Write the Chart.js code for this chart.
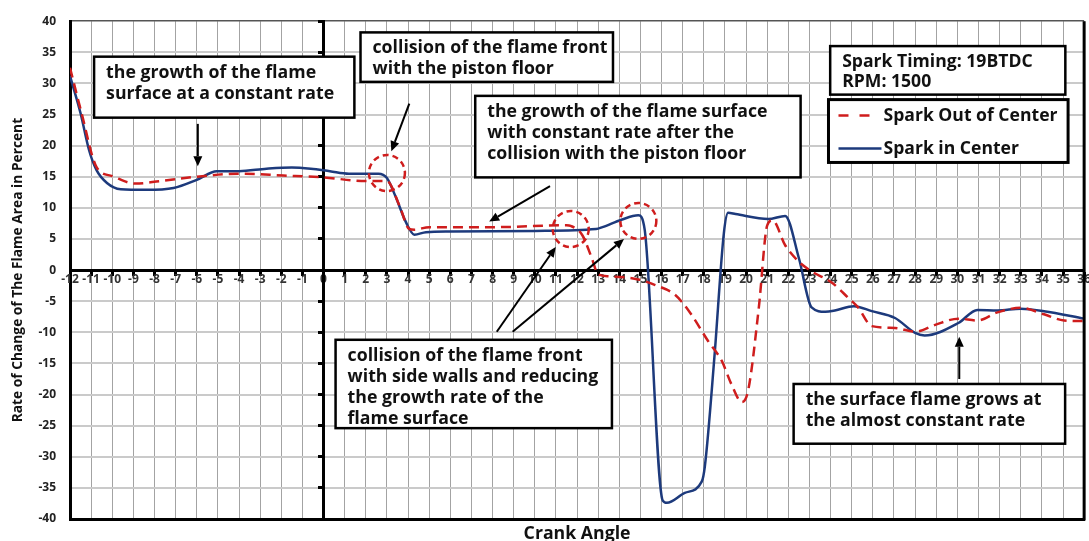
<!DOCTYPE html>
<html>
<head>
<meta charset="utf-8">
<script src="https://cdn.jsdelivr.net/npm/chart.js@4.4.1/dist/chart.umd.min.js"></script>
<style>
  html, body { margin: 0; padding: 0; background: #fff; }
</style>
</head>
<body>
<canvas id="flameChart" width="1089" height="541"></canvas>
<script>
// crank angle range and value range of the plot
const angleMin = -12, angleMax = 36;
const rateMin = -40, rateMax = 40, rateStep = 5;

// Spark Out of Center (red dashed)
const angleOut = [-12, -11.45, -10.75, -10, -8.9, -7.75, -6, -4, -1.9, 0, 2, 3, 3.6, 4.06, 4.3, 5,
  8, 11.5, 11.7, 12.25, 12.7, 13, 13.5, 14.9, 15.7, 16.65, 17.4, 18.2, 18.85, 19.3, 19.8, 20.1,
  20.6, 21, 21.25, 21.85, 22.5, 23.1, 24.05, 24.85, 25.3, 25.95, 27.05, 28, 28.95, 30.05, 30.95,
  31.9, 33, 34.1, 35.05, 36];
const rateOut = [32.5, 25.2, 16.6, 15.1, 13.9, 14.3, 15.0, 15.5, 15.2, 14.9, 14.3, 14.3, 10.3, 6.6, 6.5, 6.9,
  6.9, 7.2, 7.1, 5.6, 1.9, -0.7, -1.0, -1.5, -2.4, -4.0, -7.1, -11.4, -14.6, -18.3, -21.2, -19.3,
  -6.1, 7.2, 8.0, 4.0, 1.35, -0.2, -2.0, -4.5, -6.0, -9.0, -9.3, -9.9, -8.8, -7.8, -8.1,
  -6.8, -6.05, -7.1, -8.1, -8.2];

// Spark in Center (blue solid)
const angleIn = [-12, -11.5, -11.1, -10.75, -10.25, -9.6, -8.4, -7.1, -6, -5.05, -4, -2.7, -1.5, -0.6,
  0.3, 1.2, 2.6, 3.0, 3.4, 3.9, 4.3, 4.85, 6, 10, 12.9, 13.2, 14.1, 14.9, 15.2, 16.05, 16.25, 17.1,
  17.9, 18.05, 18.5, 18.95, 19.15, 19.5, 21.05, 21.85, 22.5, 23.1, 23.75, 24.2, 25.1, 25.95, 27.05,
  28, 28.45, 30.05, 30.95, 31.9, 33, 34.1, 36];
const rateIn = [31.2, 25.2, 19.3, 16.1, 14.0, 13.0, 12.9, 13.2, 14.5, 15.9, 15.9, 16.3, 16.5, 16.3,
  15.9, 15.5, 15.5, 14.8, 11.9, 7.7, 5.7, 6.1, 6.2, 6.3, 6.6, 6.9, 8.1, 8.8, 6.5, -37.0, -37.4, -35.8,
  -34.0, -31.5, -14, 6, 9.2, 9.0, 8.2, 8.7, 1.9, -6.0, -6.7, -6.5, -5.8, -6.6, -7.7,
  -10.1, -10.5, -8.5, -6.4, -6.5, -6.2, -6.6, -7.8];

// annotation boxes: text lines and box corners in data units [left, top, right, bottom]
const notes = [
  { lines: ['the growth of the flame', 'surface at a constant rate'], box: [-10.86, 34.3, 1.46, 24.5] },
  { lines: ['collision of the flame front', 'with the piston floor'], box: [1.75, 38.2, 13.7, 30.25] },
  { lines: ['the growth of the flame surface', 'with constant rate after the', 'collision with the piston floor'], box: [7.18, 28.0, 22.58, 14.9] },
  { lines: ['collision of the flame front', 'with side walls and reducing', 'the growth rate of the', 'flame surface'], box: [0.57, -11.2, 13.65, -25.4] },
  { lines: ['the surface flame grows at', 'the almost constant rate'], box: [22.25, -18.3, 35.1, -27.9] },
  { lines: ['Spark Timing: 19BTDC', 'RPM: 1500'], box: [23.98, 36.0, 35.11, 28.2] }
];
const legendBox = [23.9, 27.4, 35.24, 17.3];

// arrows [fromX, fromY, toX, toY] in data units
const arrows = [
  [-5.95, 23.5, -5.95, 16.7],
  [4.06, 26.75, 3.21, 19.1],
  [10.72, 13.5, 7.84, 7.8],
  [8.2, -9.9, 10.99, 3.7],
  [8.95, -9.9, 14.22, 5.0],
  [30.09, -17.5, 30.09, -10.7]
];

// dashed circles [x, y] in data units
const circles = [[3.0, 15.6], [11.7, 6.6], [14.9, 7.9]];

const seriesNames = ['Spark Out of Center', 'Spark in Center'];
const redColor = '#cf1d1d';
const blueColor = '#1d3a7c';
const family = '"Open Sans", "DejaVu Sans", sans-serif';

function fitSize(text, target) {
  const c = document.createElement('canvas').getContext('2d');
  c.font = 'bold 20px ' + family;
  return 20 * target / c.measureText(text).width;
}
const noteSize = fitSize('collision of the flame front', 235);
const legendSize = fitSize('Spark Out of Center', 174);
const yTitleSize = fitSize('Rate of Change of The Flame Area in Percent', 305);
const xTitleSize = fitSize('Crank Angle', 107);

const toPoints = (xs, ys) => xs.map((x, i) => ({ x: x, y: ys[i] }));

const notesPlugin = {
  id: 'notes',
  afterDatasetsDraw(chart) {
    const ctx = chart.ctx;
    const sx = chart.scales.x, sy = chart.scales.y;
    const X = v => sx.getPixelForValue(v);
    const Y = v => sy.getPixelForValue(v);
    const area = chart.chartArea;

    ctx.save();
    // right frame line
    ctx.strokeStyle = '#000';
    ctx.lineWidth = 3;
    ctx.beginPath();
    ctx.moveTo(area.right, area.top);
    ctx.lineTo(area.right, area.bottom + 1.5);
    ctx.stroke();

    // red dashed circles
    ctx.strokeStyle = redColor;
    ctx.lineWidth = 2.5;
    ctx.setLineDash([6, 4]);
    circles.forEach(c => {
      ctx.beginPath();
      ctx.arc(X(c[0]), Y(c[1]), 18, 0, Math.PI * 2);
      ctx.stroke();
    });
    ctx.setLineDash([]);

    // arrows
    ctx.strokeStyle = '#000';
    ctx.fillStyle = '#000';
    ctx.lineWidth = 2;
    arrows.forEach(a => {
      const x1 = X(a[0]), y1 = Y(a[1]), x2 = X(a[2]), y2 = Y(a[3]);
      const ang = Math.atan2(y2 - y1, x2 - x1);
      const hl = 10, hw = 4.5;
      const bx = x2 - hl * Math.cos(ang), by = y2 - hl * Math.sin(ang);
      ctx.beginPath();
      ctx.moveTo(x1, y1);
      ctx.lineTo(bx, by);
      ctx.stroke();
      ctx.beginPath();
      ctx.moveTo(x2, y2);
      ctx.lineTo(bx + hw * Math.sin(ang), by - hw * Math.cos(ang));
      ctx.lineTo(bx - hw * Math.sin(ang), by + hw * Math.cos(ang));
      ctx.closePath();
      ctx.fill();
    });

    // text boxes
    notes.forEach((n, idx) => {
      const l = X(n.box[0]), t = Y(n.box[1]), r = X(n.box[2]), b = Y(n.box[3]);
      ctx.fillStyle = '#fff';
      ctx.fillRect(l, t, r - l, b - t);
      ctx.strokeStyle = '#000';
      ctx.lineWidth = 2.5;
      ctx.strokeRect(l, t, r - l, b - t);
      const size = idx === 5 ? legendSize : noteSize;
      ctx.font = 'bold ' + size.toFixed(2) + 'px ' + family;
      ctx.fillStyle = '#111';
      ctx.textAlign = 'left';
      ctx.textBaseline = 'middle';
      const gap = idx === 5 ? 19.5 : 21;
      n.lines.forEach((line, i) => {
        ctx.fillText(line, l + 12, t + 16 + i * gap);
      });
    });

    // legend box
    const ll = X(legendBox[0]), lt = Y(legendBox[1]), lr = X(legendBox[2]), lb = Y(legendBox[3]);
    ctx.fillStyle = '#fff';
    ctx.fillRect(ll, lt, lr - ll, lb - lt);
    ctx.strokeStyle = '#000';
    ctx.lineWidth = 3;
    ctx.strokeRect(ll, lt, lr - ll, lb - lt);
    ctx.font = 'bold ' + legendSize.toFixed(2) + 'px ' + family;
    ctx.fillStyle = '#111';
    ctx.textBaseline = 'middle';
    const row1 = lt + 16, row2 = lt + 49;
    ctx.lineWidth = 2.5;
    ctx.strokeStyle = redColor;
    ctx.setLineDash([10, 11]);
    ctx.beginPath();
    ctx.moveTo(ll + 10, row1);
    ctx.lineTo(ll + 43, row1);
    ctx.stroke();
    ctx.setLineDash([]);
    ctx.strokeStyle = blueColor;
    ctx.beginPath();
    ctx.moveTo(ll + 10, row2);
    ctx.lineTo(ll + 53, row2);
    ctx.stroke();
    ctx.fillText(chart.data.datasets[0].label, ll + 55, row1);
    ctx.fillText(chart.data.datasets[1].label, ll + 55, row2);
    ctx.restore();
  }
};

new Chart(document.getElementById('flameChart'), {
  type: 'line',
  data: {
    datasets: [
      {
        label: seriesNames[0],
        data: toPoints(angleOut, rateOut),
        borderColor: redColor,
        borderWidth: 2.5,
        borderDash: [10, 6],
        pointRadius: 0,
        cubicInterpolationMode: 'monotone',
        fill: false
      },
      {
        label: seriesNames[1],
        data: toPoints(angleIn, rateIn),
        borderColor: blueColor,
        borderWidth: 2.5,
        pointRadius: 0,
        cubicInterpolationMode: 'monotone',
        fill: false
      }
    ]
  },
  options: {
    responsive: false,
    animation: false,
    devicePixelRatio: 1,
    layout: { padding: { top: 16, right: 4, left: 0, bottom: 0 } },
    plugins: { legend: { display: false }, tooltip: { enabled: false } },
    scales: {
      x: {
        type: 'linear',
        min: angleMin,
        max: angleMax,
        ticks: { display: false, stepSize: 1 },
        grid: { color: '#a3a3a3', lineWidth: 1, drawTicks: false },
        border: { color: '#000', width: 3 },
        title: {
          display: true,
          text: 'Crank Angle',
          color: '#111',
          font: { family: family, size: xTitleSize, weight: 'bold' },
          padding: { top: 0, bottom: -4 }
        },
        afterFit: s => { s.height = 22; }
      },
      y: {
        min: rateMin,
        max: rateMax,
        ticks: {
          stepSize: rateStep,
          padding: 14,
          color: '#222',
          font: { family: family, size: 12, weight: 'bold' }
        },
        grid: {
          color: c => c.tick.value === rateMax ? '#555' : '#cacaca',
          lineWidth: c => c.tick.value === rateMax ? 1.5 : 2,
          drawTicks: false
        },
        border: { color: '#000', width: 3 },
        title: {
          display: true,
          text: 'Rate of Change of The Flame Area in Percent',
          color: '#111',
          font: { family: family, size: yTitleSize, weight: 'bold' },
          padding: { top: 10, bottom: 0 }
        },
        afterFit: s => { s.width = 70; }
      },
      xz: {
        type: 'linear',
        axis: 'x',
        position: { y: 0 },
        min: angleMin,
        max: angleMax,
        ticks: {
          stepSize: 1,
          autoSkip: false,
          maxRotation: 0,
          padding: -2,
          color: '#333',
          font: { family: family, size: 12, weight: 'bold' }
        },
        grid: { drawOnChartArea: false, drawTicks: true, tickLength: 4, tickWidth: 3, color: '#000' },
        border: { color: '#000', width: 3 }
      },
      yz: {
        type: 'linear',
        axis: 'y',
        position: { x: 0 },
        min: rateMin,
        max: rateMax,
        ticks: { display: false, stepSize: rateStep },
        grid: { drawOnChartArea: false, drawTicks: true, tickLength: 4, tickWidth: 3, color: '#000' },
        border: { color: '#000', width: 3 }
      }
    }
  },
  plugins: [notesPlugin]
});
</script>
</body>
</html>
